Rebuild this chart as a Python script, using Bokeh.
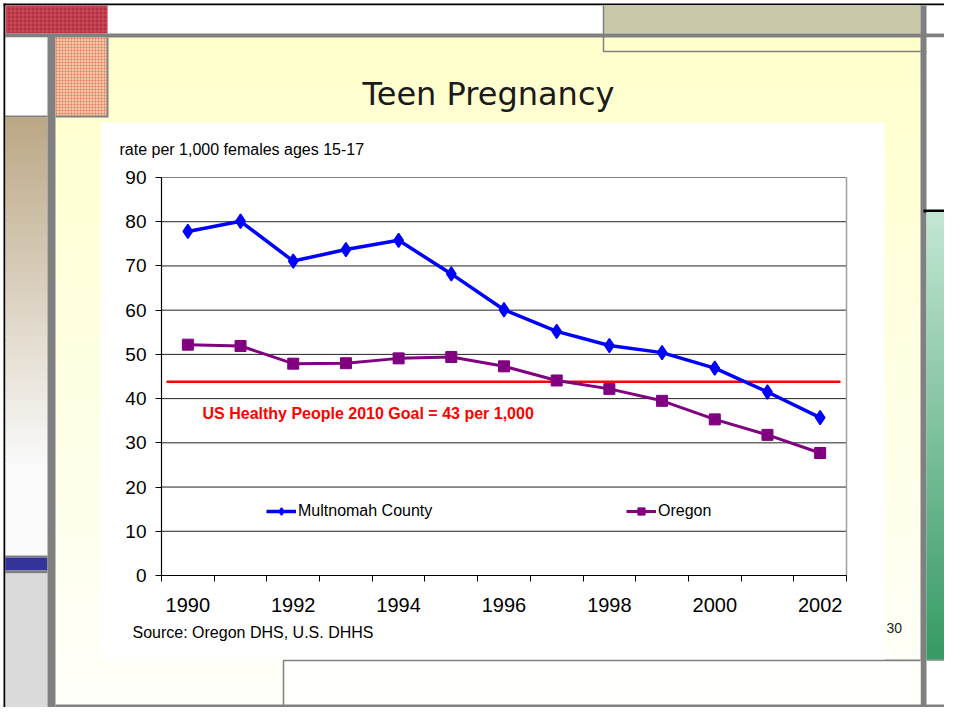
import numpy as np
from bokeh.plotting import figure
from bokeh.models import Range1d, LinearAxis, FixedTicker, Legend, LegendItem
from bokeh.embed import file_html
from bokeh.resources import INLINE
from bokeh.core.properties import value

# ---------------- data ----------------
years = [1990, 1991, 1992, 1993, 1994, 1995, 1996, 1997, 1998, 1999, 2000, 2001, 2002]
multnomah = [77.8, 80.1, 71.1, 73.7, 75.8, 68.2, 60.1, 55.2, 52.0, 50.4, 46.9, 41.5, 35.7]
oregon = [52.2, 51.9, 47.9, 48.0, 49.1, 49.4, 47.3, 44.1, 42.2, 39.5, 35.3, 31.8, 27.7]
goal = 43.8
y_ticks = [0, 10, 20, 30, 40, 50, 60, 70, 80, 90]
x_label_years = [1990, 1992, 1994, 1996, 1998, 2000, 2002]
x_tick_labels = ["1990", "1992", "1994", "1996", "1998", "2000", "2002"]
series_names = ["Multnomah County", "Oregon"]
y_title = "rate per 1,000 females ages 15-17"
goal_label = "US Healthy People 2010 Goal = 43 per 1,000"
source_text = "Source: Oregon DHS, U.S. DHHS"
slide_title = "Teen Pregnancy"
page_no = "30"

# ---------------- layout (reference pixel space) ----------------
PX0, PX1 = 0, 944
PY0, PY1 = 0, 707
W, H = PX1 - PX0, PY1 - PY0
plot_left, plot_right = 161, 846
plot_top, plot_bottom = 177, 575
ncat = len(years)
cat_w = (plot_right - plot_left) / ncat
k = (plot_bottom - plot_top) / 90.0
yr_start = years[0] - 0.5 + (PX0 - plot_left) / cat_w
yr_end = years[0] - 0.5 + (PX1 - plot_left) / cat_w
rate_start = (plot_bottom - PY1) / k
rate_end = (plot_bottom - PY0) / k

FONT = "Liberation Sans"

p = figure(width=W, height=H, x_range=Range1d(PX0, PX1), y_range=Range1d(PY1, PY0),
           min_border=0, toolbar_location=None, output_backend="svg",
           x_axis_type=None, y_axis_type=None)
p.outline_line_color = None
p.background_fill_color = "#FFFFFF"
p.border_fill_color = "#FFFFFF"
p.extra_x_ranges = {"yr": Range1d(yr_start, yr_end)}
p.extra_y_ranges = {"rate": Range1d(rate_start, rate_end)}


def hexrgb(c):
    c = c.lstrip("#")
    return np.array([int(c[i:i + 2], 16) for i in (0, 2, 4)], dtype=float)


def grad(x0, x1, y0, y1, c0, c1, n=48, vertical=True):
    a, b = hexrgb(c0), hexrgb(c1)
    L, R, T, B, C = [], [], [], [], []
    for i in range(n):
        t = i / (n - 1)
        col = a + (b - a) * t
        C.append("#%02x%02x%02x" % tuple(int(round(v)) for v in col))
        if vertical:
            s = (y1 - y0) / n
            L.append(x0); R.append(x1)
            T.append(y0 + i * s - 0.4); B.append(y0 + (i + 1) * s + 0.4)
        else:
            s = (x1 - x0) / n
            T.append(y0); B.append(y1)
            L.append(x0 + i * s - 0.4); R.append(x0 + (i + 1) * s + 0.4)
    p.quad(left=L, right=R, top=T, bottom=B, fill_color=C, line_color=None)


def box(x0, x1, y0, y1, color):
    p.quad(left=[x0], right=[x1], top=[y0], bottom=[y1], fill_color=color, line_color=None)


# ---------------- slide decoration ----------------
box(0, 960, 0, 723, "#FFFFFF")
# outer black frame
box(3, 960, 3, 5, "#000000")
box(3, 5, 3, 723, "#000000")
# slide yellow background
grad(55, 920, 37, 705, "#FFFFCC", "#FFFFFA", n=60)
# top row
box(5, 960, 5, 33, "#FFFFFF")
box(5, 107, 5, 33, "#B5303F")
p.quad(left=[5], right=[107], top=[5], bottom=[33], fill_color=None, line_color=None,
       hatch_pattern="+", hatch_color="#D86070", hatch_scale=4, hatch_alpha=0.6)
box(603, 920, 5, 33, "#C9C8A8")
box(5, 960, 33, 37, "#808080")
p.line([603, 603, 960], [5, 51, 51], line_color="#808080", line_width=1.5)
# left column
box(5, 47, 37, 115, "#FFFFFF")
box(5, 47, 115, 117, "#808080")
grad(5, 47, 117, 470, "#BCA886", "#FAFAFA", n=50)
box(5, 47, 470, 555, "#FBFBFB")
box(5, 47, 555, 557, "#808080")
box(5, 47, 557, 570, "#333399")
box(5, 47, 570, 573, "#808080")
box(5, 47, 573, 723, "#DADADA")
box(47, 55, 33, 723, "#808080")
# peach checker box
box(55, 108, 37, 117, "#808080")
box(55, 106, 37, 115, "#F3C8A4")
p.quad(left=[55], right=[106], top=[37], bottom=[115], fill_color=None, line_color=None,
       hatch_pattern="+", hatch_color="#E07060", hatch_scale=3, hatch_alpha=0.5)
# right column
box(926, 960, 37, 209, "#FFFFFF")
box(920, 926, 5, 723, "#808080")
box(923, 960, 209, 212, "#000000")
grad(926, 960, 212, 659, "#C2E6D2", "#389A66", n=60)
box(883, 920, 659, 660.5, "#A0A0A0")
box(926, 960, 659, 660.5, "#A0A0A0")
# chart white area
box(100, 884, 122, 660, "#FFFFFF")
# bottom box and bars
box(283, 920, 660, 705, "#FFFFFC")
p.line([283, 283, 920], [723, 660, 660], line_color="#808080", line_width=1.5)
box(55, 960, 704, 710, "#808080")
box(55, 330, 710, 718, "#FFFFFF")
grad(330, 960, 710, 718, "#D8D0F8", "#1890FF", n=60, vertical=False)
p.line([283, 283], [710, 723], line_color="#808080", line_width=1.5)

# ---------------- chart ----------------
# grid lines (y values through the rate scale)
p.segment(x0=plot_left, x1=plot_right, y0=y_ticks[1:-1], y1=y_ticks[1:-1],
          y_range_name="rate", line_color="#222222", line_width=1)
p.segment(x0=plot_left, x1=plot_right, y0=y_ticks[-1:], y1=y_ticks[-1:],
          y_range_name="rate", line_color="#808080", line_width=1)
p.segment(x0=[plot_right], x1=[plot_right], y0=[y_ticks[0]], y1=[y_ticks[-1]],
          y_range_name="rate", line_color="#A0A0A0", line_width=1.5)

# goal line
p.segment(x0=[166], x1=[840], y0=[goal], y1=[goal], y_range_name="rate",
          line_color="#FF0000", line_width=2.5)

r_o_line = p.line(years, oregon, x_range_name="yr", y_range_name="rate",
                  line_color="#800080", line_width=3)
r_o_pts = p.scatter(years, oregon, x_range_name="yr", y_range_name="rate",
                    marker="square", size=11, fill_color="#800080", line_color="#800080")
r_m_line = p.line(years, multnomah, x_range_name="yr", y_range_name="rate",
                  line_color="#0000FF", line_width=3.5)
r_m_pts = p.scatter(years, multnomah, x_range_name="yr", y_range_name="rate",
                    marker="diamond", size=14,
                    fill_color="#0000FF", line_color="#0000FF", line_width=1.5)

# axes
yaxis = LinearAxis(y_range_name="rate", fixed_location=plot_left,
                   ticker=FixedTicker(ticks=y_ticks), bounds=(y_ticks[0], y_ticks[-1]),
                   axis_line_color="#000000", axis_line_width=1.2,
                   major_tick_in=0, major_tick_out=6, major_tick_line_color="#000000",
                   minor_tick_line_color=None, major_label_standoff=9,
                   major_label_text_font=FONT, major_label_text_font_size="19px",
                   major_label_text_color="#000000")
p.add_layout(yaxis, "left")

bounds_ticks = [y - 0.5 for y in years] + [years[-1] + 0.5]
xaxis_t = LinearAxis(x_range_name="yr", y_range_name="rate", fixed_location=0,
                     ticker=FixedTicker(ticks=bounds_ticks), bounds=(bounds_ticks[0], bounds_ticks[-1]),
                     axis_line_color="#000000", axis_line_width=1.2,
                     major_tick_in=0, major_tick_out=6, major_tick_line_color="#000000",
                     minor_tick_line_color=None, major_label_text_color=None)
p.add_layout(xaxis_t, "below")
xaxis_l = LinearAxis(x_range_name="yr", y_range_name="rate", fixed_location=0,
                     ticker=FixedTicker(ticks=x_label_years),
                     major_label_overrides={y: s for y, s in zip(x_label_years, x_tick_labels)},
                     axis_line_color=None, major_tick_line_color=None, minor_tick_line_color=None,
                     major_label_standoff=16, major_label_text_font=FONT,
                     major_label_text_font_size="20px", major_label_text_color="#000000")
p.add_layout(xaxis_l, "below")

# legends
for name, rs, lx in [(series_names[0], [r_m_line, r_m_pts], 266),
                     (series_names[1], [r_o_line, r_o_pts], 626)]:
    lg = Legend(items=[LegendItem(label=name, renderers=rs)], location=(lx, H - 511 - 9),
                orientation="horizontal", padding=0, margin=0, spacing=0,
                border_line_color=None, background_fill_alpha=0,
                glyph_width=30, glyph_height=18, label_standoff=2,
                label_text_font=FONT, label_text_font_size="16px", label_text_color="#000000")
    p.add_layout(lg, "center")

# texts
p.text(x=[488], y=[93], text=[slide_title], text_align="center", text_baseline="middle",
       text_font=value("DejaVu Sans"), text_font_size="32px", text_color="#1A1A1A")
p.text(x=[119], y=[149], text=[y_title], text_align="left", text_baseline="middle",
       text_font=value(FONT), text_font_size="16px", text_color="#000000")
p.text(x=[202], y=[413], text=[goal_label], text_align="left", text_baseline="middle",
       text_font=value(FONT), text_font_size="16px", text_font_style="bold", text_color="#FF0000")
p.text(x=[132], y=[632], text=[source_text], text_align="left", text_baseline="middle",
       text_font=value(FONT), text_font_size="16px", text_color="#000000")
p.text(x=[886], y=[627], text=[page_no], text_align="left", text_baseline="middle",
       text_font=value(FONT), text_font_size="14px", text_color="#222222")

open("out.html", "w").write(file_html(p, INLINE))
